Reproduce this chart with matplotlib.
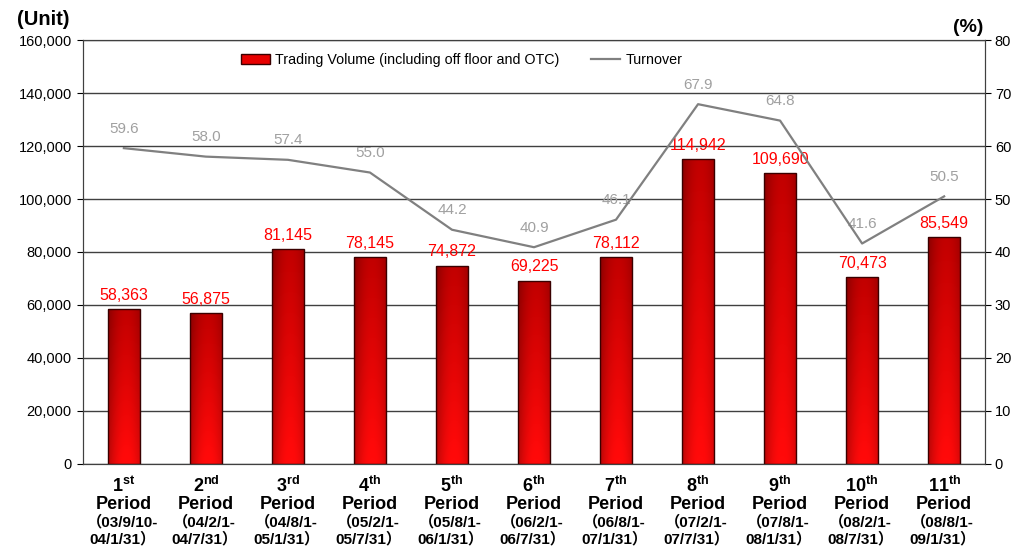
import matplotlib.pyplot as plt
import numpy as np
from matplotlib.lines import Line2D
from matplotlib.patches import Patch
from matplotlib.transforms import blended_transform_factory

ORDINALS = ["1", "2", "3", "4", "5", "6", "7", "8", "9", "10", "11"]
SUFFIXES = ["st", "nd", "rd", "th", "th", "th", "th", "th", "th", "th", "th"]
DATE_RANGES = [
    ("03/9/10-", "04/1/31"),
    ("04/2/1-", "04/7/31"),
    ("04/8/1-", "05/1/31"),
    ("05/2/1-", "05/7/31"),
    ("05/8/1-", "06/1/31"),
    ("06/2/1-", "06/7/31"),
    ("06/8/1-", "07/1/31"),
    ("07/2/1-", "07/7/31"),
    ("07/8/1-", "08/1/31"),
    ("08/2/1-", "08/7/31"),
    ("08/8/1-", "09/1/31"),
]
VOLUME = [58363, 56875, 81145, 78145, 74872, 69225, 78112, 114942, 109690, 70473, 85549]
TURNOVER = [59.6, 58.0, 57.4, 55.0, 44.2, 40.9, 46.1, 67.9, 64.8, 41.6, 50.5]

FONT = ["Liberation Sans", "Noto Sans CJK JP", "DejaVu Sans"]
plt.rcParams.update(
    {
        "font.family": FONT,
        "mathtext.fontset": "custom",
        "mathtext.rm": "Liberation Sans",
        "mathtext.bf": "Liberation Sans:bold",
    }
)


def bar_gradient(n=64):
    v = np.linspace(0, 1, n)[:, None]          # 0 = top, 1 = bottom
    h = np.linspace(-1, 1, n)[None, :]
    shade = np.clip(1 - 0.22 * (h - 0.15) ** 2, 0, 1)   # darker toward the sides
    r = (0.76 + 0.26 * v) * shade
    gb = 0.04 * v * shade
    return np.dstack([np.clip(r, 0, 1), gb, gb])


fig = plt.figure(figsize=(10.23, 5.49), dpi=100)
ax = fig.add_axes([0.081, 0.155, 0.882, 0.772])
ax2 = ax.twinx()

x = np.arange(len(VOLUME))
width = 0.39
grad = bar_gradient()
bars = ax.bar(x, VOLUME, width=width, facecolor="none", edgecolor="#3a0000", linewidth=1.0, zorder=3)
for rect in bars:
    x0, y0 = rect.get_x(), rect.get_y()
    w, h = rect.get_width(), rect.get_height()
    im = ax.imshow(grad, extent=[x0, x0 + w, y0, y0 + h], aspect="auto", zorder=2.5, origin="upper")
    im.set_clip_path(rect)

for xi, v in zip(x, VOLUME):
    ax.text(xi, v + 2400, f"{v:,}", ha="center", va="bottom", color="#FF0000", fontsize=11.5, zorder=5)

ax.set_xlim(-0.5, len(VOLUME) - 0.5)
ax.set_ylim(0, 160000)
ax.set_yticks(np.arange(0, 160001, 20000))
ax.set_yticklabels([f"{t:,}" for t in range(0, 160001, 20000)], fontsize=10.5)
ax.yaxis.grid(True, color="#404040", linewidth=1.0)
ax.set_axisbelow(True)
ax.set_xticks(x)
ax.set_xticklabels([])
ax.tick_params(axis="x", length=0)
ax.tick_params(axis="y", direction="out", length=4, pad=4)

ax2.plot(x, TURNOVER, color="#808080", linewidth=1.6, zorder=4)
for xi, t in zip(x, TURNOVER):
    ax2.annotate(f"{t:.1f}", (xi, t), xytext=(0, 14), textcoords="offset points",
                 ha="center", va="center", color="#A0A0A0", fontsize=11)
ax2.set_ylim(0, 80)
ax2.set_yticks(np.arange(0, 81, 10))
ax2.tick_params(axis="y", direction="out", length=4, labelsize=10.5, pad=3)

for a in (ax, ax2):
    for spine in a.spines.values():
        spine.set_color("#404040")

tr = blended_transform_factory(ax.transData, ax.transAxes)
for xi, num, suf, (d1, d2) in zip(x, ORDINALS, SUFFIXES, DATE_RANGES):
    ax.text(xi, -0.028, rf"$\mathbf{{{num}^{{{suf}}}}}$" + "\nPeriod", transform=tr,
            ha="center", va="top", fontsize=13, fontweight="bold", linespacing=1.0)
    ax.text(xi - 0.02, -0.12, f"（{d1}\n{d2}）", transform=tr,
            ha="center", va="top", fontsize=11, fontweight="bold", linespacing=1.2)

fig.text(0.017, 0.964, "(Unit)", fontsize=14.5, fontweight="bold", va="center", ha="left")
fig.text(0.961, 0.949, "(%)", fontsize=14, fontweight="bold", va="center", ha="right")

handles = [
    Patch(facecolor="#E80000", edgecolor="#3a0000", label="Trading Volume (including off floor and OTC)"),
    Line2D([0], [0], color="#808080", linewidth=1.6, label="Turnover"),
]
ax2.legend(handles=handles, loc="upper center", bbox_to_anchor=(0.42, 1.0), ncol=2,
           frameon=False, fontsize=10.3, handlelength=2.0, handletextpad=0.4, columnspacing=2.2)

fig.savefig("out.png", dpi=100)
